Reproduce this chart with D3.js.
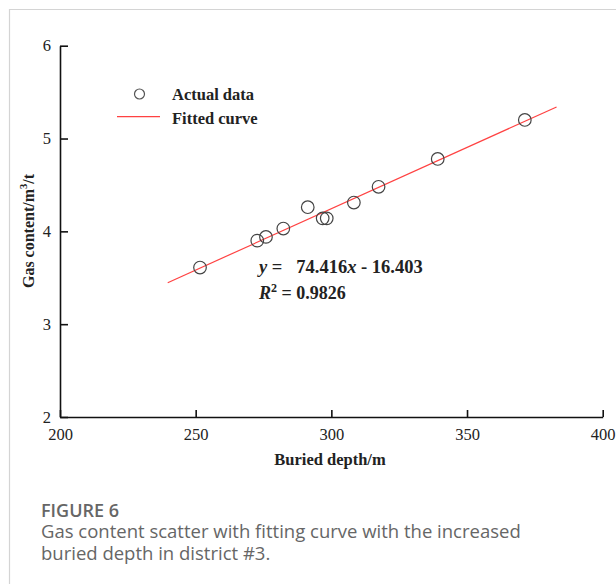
<!DOCTYPE html>
<html lang="en">
<head>
	<title>gas content</title>
	<meta charset="utf-8" />
	<script src="https://cdnjs.cloudflare.com/ajax/libs/d3/7.8.5/d3.min.js"></script>
	<style>
		body { margin: 0; background: #fff; }
		svg { display: block; }
	</style>
</head>
<body>
	<svg width="616" height="584"></svg>
	<script>
		// buried depth (m) and gas content (m3/t)
		let depth = [251.6, 272.7, 275.9, 282.3, 291.3, 296.8, 298.3, 308.3, 317.4, 339.2, 371.3];
		let gas = [3.61, 3.90, 3.94, 4.03, 4.26, 4.14, 4.14, 4.31, 4.48, 4.78, 5.20];
		// ends of the fitted line
		let fitDepth = [239.7, 383.0];
		let fitGas = [3.447, 5.34];
		let xTicks = [200, 250, 300, 350, 400];
		let yTicks = [2, 3, 4, 5, 6];

		let svg = d3.select('svg');
		let serif = '"Liberation Serif", "Times New Roman", serif';

		// figure frame
		svg.append('path')
			.attr('d', 'M9.5,584V9.5H616')
			.attr('fill', 'none')
			.attr('stroke', '#d4d4d4')
			.attr('stroke-width', 1.2);

		let x = d3.scaleLinear().domain([200, 400]).range([60, 602.7]);
		let y = d3.scaleLinear().domain([2, 6]).range([417, 45.7]);

		let xAxis = svg.append('g')
			.attr('transform', 'translate(0,417)')
			.call(d3.axisBottom(x).tickValues(xTicks).tickFormat(d3.format('d'))
				.tickSizeInner(-7).tickSizeOuter(0).tickPadding(11));
		let yAxis = svg.append('g')
			.attr('transform', 'translate(60,0)')
			.call(d3.axisLeft(y).tickValues(yTicks).tickFormat(d3.format('d'))
				.tickSizeInner(-8).tickSizeOuter(0).tickPadding(9));

		[xAxis, yAxis].forEach(a => {
			a.attr('font-family', serif).attr('font-size', 16.5);
			a.selectAll('path, line').attr('stroke', '#111').attr('stroke-width', 1.6);
			a.selectAll('text')
				.style('font-family', serif)
				.style('font-size', '16.5px')
				.attr('fill', '#222');
		});

		// fitted line
		let line = d3.line()
			.x(d => x(d[0]))
			.y(d => y(d[1]));
		svg.append('path')
			.datum(fitDepth.map((d, i) => [d, fitGas[i]]))
			.attr('d', line)
			.attr('fill', 'none')
			.attr('stroke', '#ff4242')
			.attr('stroke-width', 1.2);

		// data points
		svg.selectAll('circle.pt')
			.data(depth)
			.enter()
			.append('circle')
			.attr('class', 'pt')
			.attr('cx', d => x(d))
			.attr('cy', (d, i) => y(gas[i]))
			.attr('r', 6.3)
			.attr('fill', 'none')
			.attr('stroke', '#444')
			.attr('stroke-width', 1.2);

		// legend
		svg.append('circle')
			.attr('cx', 139.5)
			.attr('cy', 94)
			.attr('r', 5)
			.attr('fill', 'none')
			.attr('stroke', '#555')
			.attr('stroke-width', 1.2);
		svg.append('line')
			.attr('x1', 117).attr('x2', 160)
			.attr('y1', 116.7).attr('y2', 116.7)
			.attr('stroke', '#ff4242')
			.attr('stroke-width', 1.2);
		svg.selectAll('text.legend')
			.data(['Actual data', 'Fitted curve'])
			.enter()
			.append('text')
			.attr('class', 'legend')
			.attr('x', 172)
			.attr('y', (d, i) => 99.5 + i * 24)
			.attr('font-family', serif)
			.attr('font-size', 16.5)
			.attr('font-weight', 'bold')
			.attr('fill', '#222')
			.text(d => d);

		// equation
		let eq = svg.append('text')
			.attr('x', 259)
			.attr('y', 273)
			.attr('font-family', serif)
			.attr('font-size', 18.5)
			.attr('font-weight', 'bold')
			.attr('fill', '#222')
			.attr('xml:space', 'preserve');
		eq.append('tspan').attr('font-style', 'italic').text('y');
		eq.append('tspan').text(' =   74.416');
		eq.append('tspan').attr('font-style', 'italic').text('x');
		eq.append('tspan').text(' - 16.403');

		let r2 = svg.append('text')
			.attr('x', 259)
			.attr('y', 299)
			.attr('font-family', serif)
			.attr('font-size', 18)
			.attr('font-weight', 'bold')
			.attr('fill', '#222');
		r2.append('tspan').attr('font-style', 'italic').text('R');
		r2.append('tspan').attr('font-size', 12).attr('dy', -7).text('2');
		r2.append('tspan').attr('dy', 7).text(' = 0.9826');

		// axis titles
		svg.append('text')
			.attr('x', 330)
			.attr('y', 465)
			.attr('text-anchor', 'middle')
			.attr('font-family', serif)
			.attr('font-size', 16.5)
			.attr('font-weight', 'bold')
			.attr('fill', '#222')
			.text('Buried depth/m');

		let yt = svg.append('text')
			.attr('transform', 'translate(34,231) rotate(-90)')
			.attr('text-anchor', 'middle')
			.attr('font-family', serif)
			.attr('font-size', 16)
			.attr('font-weight', 'bold')
			.attr('fill', '#222');
		yt.append('tspan').text('Gas content/m');
		yt.append('tspan').attr('font-size', 10.5).attr('dy', -7).text('3');
		yt.append('tspan').attr('dy', 7).text('/t');

		// caption
		let sans = '"Open Sans", "Noto Sans", sans-serif';
		svg.append('text')
			.attr('x', 41)
			.attr('y', 516.5)
			.attr('font-family', sans)
			.attr('font-size', 18)
			.attr('font-weight', 600)
			.attr('fill', '#666')
			.text('FIGURE 6');
		svg.selectAll('text.cap')
			.data(['Gas content scatter with fitting curve with the increased', 'buried depth in district #3.'])
			.enter()
			.append('text')
			.attr('class', 'cap')
			.attr('x', 41)
			.attr('y', (d, i) => 538 + i * 22)
			.attr('font-family', sans)
			.attr('font-size', 18.5)
			.attr('fill', '#666')
			.text(d => d);
	</script>
</body>
</html>
